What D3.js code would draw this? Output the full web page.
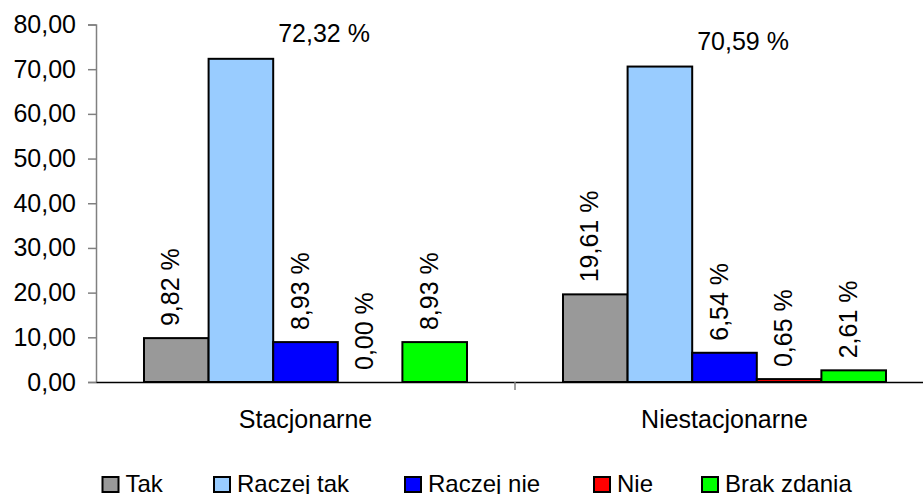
<!DOCTYPE html>
<html>
<head>
<meta charset="utf-8">
<script src="https://cdn.jsdelivr.net/npm/d3@7"></script>
<style>
  html, body { margin: 0; padding: 0; background: #fff; }
  svg { display: block; font-family: "Liberation Sans", Arial, sans-serif; }
</style>
</head>
<body>
<svg id="chart" width="923" height="494"></svg>
<script>
const categories = ["Stacjonarne", "Niestacjonarne"];
const seriesNames = ["Tak", "Raczej tak", "Raczej nie", "Nie", "Brak zdania"];
const stacjonarne = [9.82, 72.32, 8.93, 0.00, 8.93];
const niestacjonarne = [19.61, 70.59, 6.54, 0.65, 2.61];
const yTicks = [0, 10, 20, 30, 40, 50, 60, 70, 80];
const seriesColors = ["#999999", "#99CCFF", "#0000FF", "#FF0000", "#00FF00"];

const valuesByCategory = [stacjonarne, niestacjonarne];

const svg = d3.select("#chart");
const fmt = v => d3.format(".2f")(v).replace(".", ",");

const y = d3.scaleLinear().domain([0, 80]).range([382, 24.5]);
const x0 = d3.scaleBand().domain(categories).range([96, 934]).paddingInner(0).paddingOuter(0);
const x1 = d3.scaleBand().domain(seriesNames).range([0, x0.bandwidth()]).paddingInner(0).paddingOuter(0.743);

// Y axis
const yAxis = d3.axisLeft(y).tickValues(yTicks).tickFormat(fmt).tickSize(8).tickPadding(12);
const gy = svg.append("g").attr("transform", "translate(96,0)").call(yAxis);
gy.select(".domain").attr("stroke", "#808080").attr("stroke-width", 1.5);
gy.selectAll(".tick line").attr("stroke", "#808080").attr("stroke-width", 1.5);
gy.selectAll(".tick text").attr("font-size", 25).attr("fill", "#000")
  .attr("font-family", "'Liberation Sans', Arial, sans-serif");

// Bars
const groups = svg.append("g").selectAll("g")
  .data(categories.map((c, i) => ({ cat: c, vals: valuesByCategory[i] })))
  .join("g")
  .attr("transform", d => `translate(${x0(d.cat)},0)`);

groups.selectAll("rect")
  .data(d => d.vals.map((v, j) => ({ name: seriesNames[j], v, j })))
  .join("rect")
  .attr("x", d => x1(d.name))
  .attr("y", d => y(d.v))
  .attr("width", x1.bandwidth())
  .attr("height", d => y(0) - y(d.v))
  .attr("fill", d => seriesColors[d.j])
  .attr("stroke", "#000")
  .attr("stroke-width", 2);

// Labels
groups.selectAll("text.lbl")
  .data(d => d.vals.map((v, j) => ({ name: seriesNames[j], v, j })))
  .join("text")
  .attr("class", "lbl")
  .attr("font-size", 25)
  .attr("fill", "#000")
  .each(function (d) {
    const t = d3.select(this);
    const cx = x1(d.name) + x1.bandwidth() / 2;
    const top = y(d.v);
    if (d.v > 50) {
      t.attr("text-anchor", "start")
        .attr("x", x1(d.name) + x1.bandwidth() + 5)
        .attr("y", top - 17);
    } else {
      t.attr("text-anchor", "start")
        .attr("transform", `translate(${cx + 3},${top - 12}) rotate(-90)`);
    }
  })
  .text(d => fmt(d.v) + " %");

// X axis
const xAxis = d3.axisBottom(x0).tickSize(0).tickPadding(0).tickFormat("");
const gx = svg.append("g").attr("transform", "translate(0,382)").call(xAxis);
gx.select(".domain").attr("stroke", "#000").attr("stroke-width", 1.5);
gx.selectAll(".tick").remove();
// category separator ticks
const seps = [x0.range()[0] + x0.step()];
svg.append("g").selectAll("line").data(seps).join("line")
  .attr("x1", d => d).attr("x2", d => d)
  .attr("y1", 382).attr("y2", 390)
  .attr("stroke", "#808080").attr("stroke-width", 1.5);
// category labels
svg.append("g").selectAll("text").data(categories).join("text")
  .attr("x", d => x0(d) + x0.bandwidth() / 2)
  .attr("y", 428)
  .attr("text-anchor", "middle")
  .attr("font-size", 25)
  .attr("fill", "#000")
  .text(d => d);

// Legend
const legendX = [102.5, 214, 405, 594, 702];
const lg = svg.append("g").selectAll("g").data(seriesNames).join("g")
  .attr("transform", (d, i) => `translate(${legendX[i]},0)`);
lg.append("rect")
  .attr("x", 0).attr("y", 477)
  .attr("width", 16).attr("height", 15)
  .attr("fill", (d, i) => seriesColors[i])
  .attr("stroke", "#000").attr("stroke-width", 2);
lg.append("text")
  .attr("x", 23).attr("y", 492)
  .attr("font-size", 24)
  .attr("fill", "#000")
  .text(d => d);
</script>
</body>
</html>
